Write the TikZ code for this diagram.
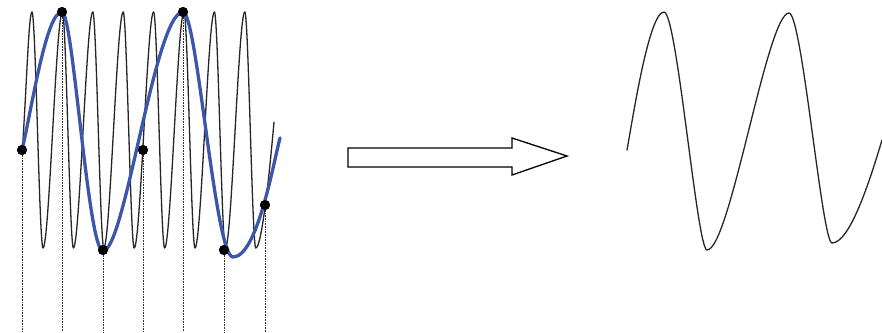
\documentclass[tikz,border=0pt]{standalone}
\definecolor{aliasblue}{RGB}{60,86,170}
\begin{document}
\begin{tikzpicture}[x=1pt,y=-1pt,
  thinwave/.style={line width=1.3pt,black!85,line cap=round,line join=round},
  aliaswave/.style={line width=3.3pt,aliasblue,line cap=round,line join=round},
  sample/.style={circle,fill=black,inner sep=0pt,minimum size=10pt},
  dotline/.style={line width=0.9pt,black!80,dash pattern=on 0.9pt off 0.7pt},
  outarrow/.style={line width=1.3pt,black,line join=miter,fill=white}]
\useasboundingbox (0,0) rectangle (882,332);
% sample points
\node[sample] (s1) at (22,150) {};
\node[sample] (s2) at (62,12) {};
\node[sample] (s3) at (103,250) {};
\node[sample] (s4) at (143,150) {};
\node[sample] (s5) at (183,12) {};
\node[sample] (s6) at (224,250) {};
\node[sample] (s7) at (265,205) {};
\foreach \i/\x in {1/22,2/62,3/103,4/143,5/183,6/224,7/265}{
  \coordinate (b\i) at (\x,332);
  \draw[dotline] (s\i.center) -- (b\i);
}
% high-frequency signal
\draw[thinwave] (23,140) .. controls (27,75) and (29,12) .. (32,12);
\foreach \k in {0,...,7}{
  \pgfmathsetmacro\px{32+30.4*\k}
  \pgfmathsetmacro\tx{43+30.4*\k}
  \pgfmathsetmacro\nx{32+30.4*(\k+1)}
  \ifnum\k<7
    \draw[thinwave] (\px,12) .. controls (\px+3.6,12) and (\tx-3.6,248) .. (\tx,248)
      .. controls (\tx+6.2,248) and (\nx-6.2,12) .. (\nx,12);
  \else
    \draw[thinwave] (\px,12) .. controls (\px+3.6,12) and (\tx-3.6,248) .. (\tx,248)
      .. controls (\tx+6,248) and (\tx+14,170) .. (274,122);
  \fi
}
% aliased (reconstructed) signal
\draw[aliaswave] (22,150) .. controls (32,108) and (46,12) .. (62,12)
  .. controls (73,12) and (88,251) .. (103,251)
  .. controls (125,251) and (155,12) .. (183,12)
  .. controls (197,12) and (215,257) .. (233,257)
  .. controls (257,257) and (273,165) .. (280,138);
% redraw sample dots on top
\foreach \i in {1,...,7}{\fill (s\i) circle (5pt);}
% block arrow
\draw[outarrow] (348,148) -- (512,148) -- (512,138) -- (567,156) -- (512,175)
  -- (512,167) -- (348,167) -- cycle;
% resulting signal
\draw[thinwave] (627,150) .. controls (633,117) and (649,12) .. (664,12)
  .. controls (677,12) and (697,250) .. (707,250)
  .. controls (730,250) and (767,13) .. (789,13)
  .. controls (802,13) and (822,243) .. (832,243)
  .. controls (850,243) and (870,180) .. (882,140);
\end{tikzpicture}
\end{document}
